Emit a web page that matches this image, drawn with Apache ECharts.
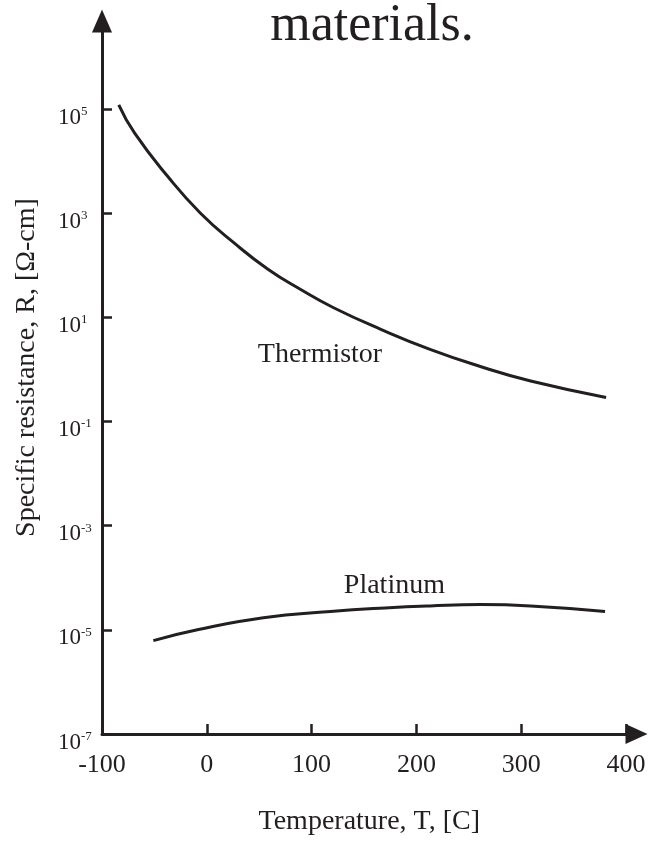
<!DOCTYPE html>
<html><head><meta charset="utf-8">
<script src="https://cdn.jsdelivr.net/npm/echarts@6/dist/echarts.min.js"></script>
<style>html,body{margin:0;padding:0;background:#fff}#c{width:650px;height:842px}</style>
</head><body><div id="c"></div>
<script>
// Temperature [C] and specific resistance [Ohm-cm]
const thermistorT = [-84, -69, -37, -6, 26, 58, 90, 121, 166, 213, 261, 309, 381];
const thermistorR = [1.2e5, 3.47e4, 5.0e3, 1.0e3, 269, 85, 33.9, 15.3, 5.9, 2.43, 1.14, 0.60, 0.29];
const platinumT = [-51, -9, 54, 118, 170, 213, 261, 309, 380];
const platinumR = [6.2e-6, 1.0e-5, 1.7e-5, 2.24e-5, 2.63e-5, 2.88e-5, 3.05e-5, 2.88e-5, 2.24e-5];
const xTicks = [-100, 0, 100, 200, 300, 400];
const yTicks = [1e-7, 1e-5, 1e-3, 1e-1, 1e1, 1e3, 1e5];
const labelThermistor = {name: 'Thermistor', T: 108, R: 1.9};
const labelPlatinum = {name: 'Platinum', T: 179, R: 7.2e-5};

const FONT = 'Liberation Serif';
const INK = '#231f20';
const chart = echarts.init(document.getElementById('c'), null, {renderer: 'canvas'});

function zip(a, b) { return a.map((v, i) => [v, b[i]]); }

function tagPoint(l) {
  return {
    symbol: 'rect', symbolSize: 1,
    itemStyle: {color: 'rgba(0,0,0,0)'},
    label: {show: true, position: 'inside', formatter: l.name, fontFamily: FONT, fontSize: 28, color: INK},
    data: [{coord: [l.T, l.R]}]
  };
}

chart.setOption({
  animation: false,
  backgroundColor: '#fff',
  grid: {left: 102, right: 13.5, top: 21, bottom: 108, outerBoundsMode: 'none', containLabel: false},
  graphic: [{
    type: 'text', x: 372, y: 26,
    style: {text: 'materials.', align: 'center', verticalAlign: 'middle', fontSize: 52, fontFamily: FONT, fill: INK}
  }],
  xAxis: {
    type: 'value', min: -100, max: 410,
    name: 'Temperature, T, [C]', nameLocation: 'middle', nameGap: 74,
    nameTextStyle: {fontFamily: FONT, fontSize: 28, color: INK},
    axisLine: {show: true, onZero: false, symbol: ['none', 'triangle'], symbolSize: [20, 22], lineStyle: {color: INK, width: 3}},
    axisTick: {show: true, inside: true, length: 10, customValues: xTicks, lineStyle: {color: INK, width: 2.5}},
    axisLabel: {customValues: xTicks, margin: 18, fontFamily: FONT, fontSize: 26, color: INK},
    splitLine: {show: false}
  },
  yAxis: {
    type: 'log', logBase: 10, min: 1e-7, max: 4.9e6,
    name: 'Specific resistance, R, [\u03A9-cm]', nameLocation: 'middle', nameGap: 61,
    nameTextStyle: {fontFamily: FONT, fontSize: 28, color: INK, padding: [0, 0, 0, 20]},
    axisLine: {show: true, onZero: false, symbol: ['none', 'triangle'], symbolSize: [20, 23], lineStyle: {color: INK, width: 3}},
    axisTick: {show: true, inside: true, length: 10, customValues: yTicks, lineStyle: {color: INK, width: 2.5}},
    axisLabel: {
      customValues: yTicks, margin: 44, align: 'left', verticalAlign: 'middle',
      formatter: function (v) { return '{b|10}{s|' + Math.round(Math.log10(v)) + '}'; },
      rich: {
        b: {fontFamily: FONT, fontSize: 23, color: INK, lineHeight: 40, verticalAlign: 'bottom'},
        s: {fontFamily: FONT, fontSize: 13, color: INK, lineHeight: 40, verticalAlign: 'bottom', padding: [0, 0, 11, 0]}
      }
    },
    splitLine: {show: false}
  },
  series: [
    {
      name: 'Thermistor', type: 'line', smooth: true, showSymbol: false,
      lineStyle: {color: INK, width: 3}, data: zip(thermistorT, thermistorR),
      markPoint: tagPoint(labelThermistor)
    },
    {
      name: 'Platinum', type: 'line', smooth: true, showSymbol: false,
      lineStyle: {color: INK, width: 3}, data: zip(platinumT, platinumR),
      markPoint: tagPoint(labelPlatinum)
    }
  ]
});
</script></body></html>
